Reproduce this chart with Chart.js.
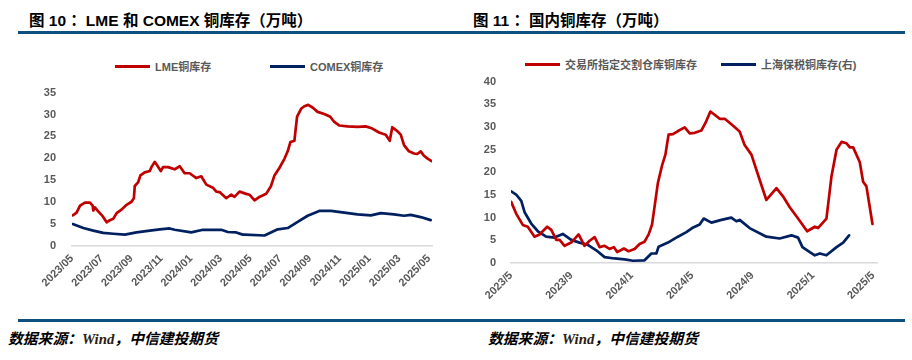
<!DOCTYPE html>
<html>
<head>
<meta charset="utf-8">
<script src="https://cdn.jsdelivr.net/npm/chart.js@4/dist/chart.umd.min.js"></script>
<style>
  html, body { margin: 0; padding: 0; background: #fff; }
  body { width: 912px; height: 360px; position: relative; overflow: hidden;
         font-family: "Liberation Sans", "Noto Sans CJK SC", sans-serif; }
  .title { position: absolute; top: 8px; font-size: 15.5px; font-weight: bold; color: #000; white-space: nowrap; }
  .rule { position: absolute; left: 18px; width: 887px; height: 3px; background: #0d4f7e; }
  .source { position: absolute; top: 327px; font-size: 14.8px; font-weight: bold; font-style: italic; color: #000;
            font-family: "Noto Sans CJK SC", sans-serif; white-space: nowrap; }
  .source .w { font-family: "Liberation Serif", serif; color: #2b1d10; }
  .leg { position: absolute; display: flex; align-items: center; font-size: 11px; font-weight: bold; color: #595959;
         white-space: nowrap; font-family: "Liberation Sans", "Noto Sans CJK SC", sans-serif; }
  .leg .ln { display: inline-block; width: 35px; height: 3px; margin-right: 5px; }
  canvas { position: absolute; }
</style>
</head>
<body>
<div class="title" style="left:29px;">图 10 ：LME 和 COMEX 铜库存（万吨）</div>
<div class="title" style="left:473px;">图 11 ：国内铜库存（万吨）</div>
<div class="rule" style="top:31px;"></div>
<div class="rule" style="top:319px;"></div>
<div class="source" style="left:8px;">数据来源：<span class="w">Wind</span>，中信建投期货</div>
<div class="source" style="left:488px;">数据来源：<span class="w">Wind</span>，中信建投期货</div>

<div class="leg" style="left:115px; top:58px;"><span class="ln" style="background:#c00000"></span>LME铜库存</div>
<div class="leg" style="left:270px; top:58px;"><span class="ln" style="background:#002060"></span>COMEX铜库存</div>
<div class="leg" style="left:525px; top:56px;"><span class="ln" style="background:#c00000"></span>交易所指定交割仓库铜库存</div>
<div class="leg" style="left:721px; top:56px;"><span class="ln" style="background:#002060"></span>上海保税铜库存(右)</div>

<canvas id="c1" width="456" height="240" style="left:0px; top:70px;"></canvas>
<canvas id="c2" width="456" height="250" style="left:456px; top:60px;"></canvas>

<script>
// ---- Data (x = months since 2023/05) ----
const lmeMonths = [0.05,0.31,0.54,0.87,1.21,1.39,1.43,1.54,1.76,2.06,2.33,2.55,2.77,3.0,3.33,3.67,4.0,4.16,4.22,4.44,4.6,4.89,5.23,5.34,5.56,5.72,5.97,6.12,6.45,6.9,7.24,7.57,7.91,8.36,8.69,9.03,9.47,9.7,9.92,10.37,10.7,10.92,11.26,11.71,11.93,12.27,12.6,13.05,13.38,13.61,13.94,14.28,14.5,14.68,14.95,15.13,15.4,15.62,15.88,16.17,16.51,16.96,17.36,17.63,17.96,18.52,19.19,19.75,20.19,20.64,21.09,21.36,21.53,21.87,22.1,22.32,22.65,22.99,23.21,23.44,23.66,23.88,24.15];
const lmeValues = [7.0,7.6,9.2,9.9,9.9,9.2,8.1,8.8,7.9,6.8,5.4,5.9,6.2,7.5,8.3,9.4,10.1,10.9,13.7,14.5,16.1,16.8,17.1,18.0,19.2,18.4,17.1,18.0,18.0,17.5,18.2,16.6,16.6,15.5,15.9,14.0,13.3,12.4,12.3,10.9,11.7,11.2,12.4,11.9,11.7,10.4,11.2,11.9,13.7,16.1,17.8,19.9,21.6,23.7,24.0,29.5,31.3,31.9,32.2,31.6,30.6,30.1,29.5,28.3,27.5,27.3,27.2,27.3,26.8,25.9,25.4,24.0,27.1,26.2,25.4,23.0,21.6,21.1,21.0,21.6,20.6,20.0,19.4];
const comexMonths = [0.05,0.76,1.43,2.1,2.77,3.55,4.34,5.23,5.9,6.57,6.9,8.02,8.8,10.03,10.48,11.04,11.48,11.6,12.94,13.83,14.5,15.17,15.84,16.62,17.41,18.3,19.19,20.09,20.76,21.65,22.32,22.77,23.44,24.11];
const comexValues = [5.0,4.1,3.5,3.0,2.8,2.6,3.1,3.5,3.8,4.0,3.7,3.1,3.7,3.7,3.2,3.1,2.6,2.6,2.4,3.8,4.1,5.5,6.9,8.0,8.0,7.6,7.2,7.0,7.5,7.2,6.9,7.1,6.6,5.9];

const shfeMonths = [0.01,0.34,0.78,1.11,1.56,1.89,2.4,2.67,3.0,3.22,3.55,3.99,4.48,4.87,5.21,5.54,5.87,6.2,6.53,6.82,7.04,7.48,7.79,8.19,8.52,8.85,9.12,9.34,9.52,9.73,10.0,10.23,10.44,10.73,11.06,11.51,11.84,12.17,12.61,12.9,13.21,13.49,13.83,14.16,14.6,15.15,15.48,15.93,16.48,16.92,17.59,18.02,18.47,19.02,19.62,20.13,20.34,20.9,21.23,21.57,21.9,22.23,22.45,22.67,23.11,23.33,23.55,23.95];
const shfeValues = [13.5,10.9,8.4,8.0,5.8,6.3,8.0,7.3,5.1,5.1,3.8,4.5,6.3,3.8,4.9,5.7,3.5,3.8,3.1,3.5,2.4,3.2,2.6,3.1,4.2,4.7,6.3,8.4,12.6,17.6,21.4,23.9,28.3,28.4,29.1,29.9,28.6,28.7,29.2,31.0,33.4,32.7,31.8,31.8,30.6,29.0,26.0,23.9,18.3,13.9,16.5,14.7,12.3,9.8,7.0,8.0,7.7,9.8,19.0,25.0,26.7,26.4,25.5,25.5,22.2,17.9,16.9,8.6];
const bondedMonths = [0.01,0.34,0.68,0.9,1.34,1.78,2.33,2.88,3.43,3.99,4.54,5.09,5.65,6.2,6.86,7.53,8.08,8.85,9.3,9.63,9.78,10.4,11.06,11.62,12.0,12.5,12.77,13.28,13.94,14.6,14.93,15.15,15.81,16.92,17.8,18.58,19.02,19.31,19.8,20.13,20.46,20.9,21.57,22.01,22.4];
const bondedValues = [15.8,15.1,13.7,11.2,8.7,7.0,5.8,5.6,6.4,5.1,4.5,4.0,2.8,1.3,1.0,0.8,0.5,0.6,2.1,2.1,3.6,4.5,5.8,6.8,7.7,8.5,9.8,8.9,9.5,10.0,9.2,9.5,7.7,5.8,5.4,6.1,5.6,3.5,2.4,1.7,2.1,1.7,3.5,4.5,6.1];

const leftSeriesNames = ['LME铜库存', 'COMEX铜库存'];
const rightSeriesNames = ['交易所指定交割仓库铜库存', '上海保税铜库存(右)'];

const pts = (xs, ys) => xs.map((x, i) => ({ x: x, y: ys[i] }));
const startYear = 2023, startMonth = 5;
function monthLabel(v, pad) {
  const total = (startMonth - 1) + Math.round(v);
  const y = startYear + Math.floor(total / 12);
  const m = total % 12 + 1;
  return y + '/' + (pad ? String(m).padStart(2, '0') : m);
}

const RED = '#c00000', BLUE = '#002060', TICK = '#595959';
const tickFont = { family: '"Liberation Sans", Arial, sans-serif', size: 11, weight: 'bold' };

function lineDs(label, data, color, axis) {
  const d = { label, data, borderColor: color, backgroundColor: color, borderWidth: 2.7,
    pointRadius: 0, tension: 0, borderJoinStyle: 'round', borderCapStyle: 'round' };
  if (axis) d.yAxisID = axis;
  return d;
}

function makeChart(id, cfg) {
  return new Chart(document.getElementById(id), {
    type: 'line',
    data: { datasets: cfg.datasets },
    options: {
      responsive: false, animation: false, devicePixelRatio: 1,
      layout: { padding: cfg.padding },
      plugins: { legend: { display: false }, tooltip: { enabled: false } },
      scales: Object.assign({
        x: {
          type: 'linear', min: 0, max: cfg.xMax,
          grid: { display: false, drawTicks: false },
          border: { display: true, color: '#d9d9d9', width: 1.5 },
          ticks: { stepSize: cfg.step, includeBounds: false, autoSkip: false,
            minRotation: 45, maxRotation: 45, padding: 6, color: TICK, font: tickFont,
            callback: v => monthLabel(v, cfg.pad) },
          afterFit: s => { s.height = cfg.xH; }
        },
        y: {
          min: 0, max: cfg.yMax,
          grid: { display: false, drawTicks: false },
          border: { display: false },
          ticks: { stepSize: 5, padding: cfg.yPad, color: TICK, font: tickFont },
          afterFit: s => { s.width = cfg.yW; }
        }
      }, cfg.extraScales || {})
    }
  });
}

makeChart('c1', {
  datasets: [
    lineDs(leftSeriesNames[0], pts(lmeMonths, lmeValues), RED),
    lineDs(leftSeriesNames[1], pts(comexMonths, comexValues), BLUE)
  ],
  padding: { top: 7, right: 24, left: 0, bottom: 0 },
  xMax: 24.2, step: 2, pad: true, xH: 64, yMax: 35, yW: 72, yPad: 16
});

makeChart('c2', {
  datasets: [
    lineDs(rightSeriesNames[0], pts(shfeMonths, shfeValues), RED, 'y'),
    lineDs(rightSeriesNames[1], pts(bondedMonths, bondedValues), BLUE, 'y1')
  ],
  padding: { top: 14, right: 35, left: 0, bottom: 0 },
  xMax: 24.25, step: 4, pad: false, xH: 47, yMax: 40, yW: 55, yPad: 15,
  extraScales: { y1: { display: false, position: 'right', min: 0, max: 40 } }
});
</script>
</body>
</html>
